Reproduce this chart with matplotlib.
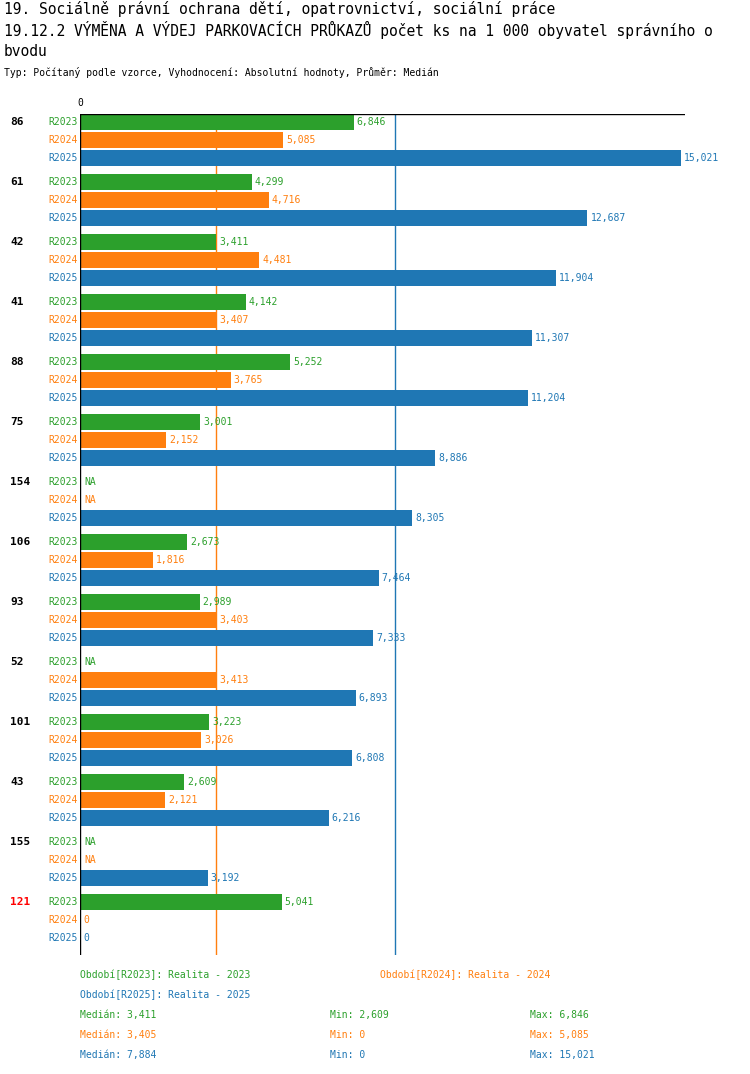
import matplotlib
matplotlib.use('Agg')
import matplotlib.pyplot as plt
import numpy as np

groups = ['86', '61', '42', '41', '88', '75', '154', '106', '93', '52', '101', '43', '155', '121']
series = ['R2023', 'R2024', 'R2025']
r2023 = [6.846, 4.299, 3.411, 4.142, 5.252, 3.001, None, 2.673, 2.989, None, 3.223, 2.609, None, 5.041]
r2024 = [5.085, 4.716, 4.481, 3.407, 3.765, 2.152, None, 1.816, 3.403, 3.413, 3.026, 2.121, None, 0.0]
r2025 = [15.021, 12.687, 11.904, 11.307, 11.204, 8.886, 8.305, 7.464, 7.333, 6.893, 6.808, 6.216, 3.192, 0.0]
medians = [3.411, 3.405, 7.884]
mins = [2.609, 0.0, 0.0]
maxs = [6.846, 5.085, 15.021]
colors = ['#2ca02c', '#ff7f0e', '#1f77b4']

W, H = 750, 1074
fig = plt.figure(figsize=(W / 100, H / 100), dpi=100)
fig.patch.set_facecolor('white')
mono = 'DejaVu Sans Mono'

def fmt(v):
    if v == 0:
        return '0'
    return f'{v:.3f}'.replace('.', ',')

def ftxt(x, y, s, **kw):
    fig.text(x / W, 1 - y / H, s, family=mono, va='center', **kw)

# axes in pixel coords: x 80..685, y 114..955
ax = fig.add_axes([80 / W, 1 - 955 / H, 605 / W, (955 - 114) / H])
ax.set_xlim(0, 605 / 40.0)
ax.set_ylim(955, 114)
ax.axis('off')
ax.plot([0, 605 / 40.0], [114, 114], color='black', lw=1)
ax.plot([0, 0], [114, 955], color='black', lw=1)
ax.axvline(medians[1], color=colors[1], lw=1, zorder=0)
ax.axvline(medians[2], color=colors[2], lw=1, zorder=0)
ax.text(0, 108, '0', family=mono, fontsize=7, ha='center', va='bottom')

data = [r2023, r2024, r2025]
for g, name in enumerate(groups):
    y0 = 122 + 60 * g
    ax.text(-70 / 40.0, y0, name, family=mono, fontsize=8, fontweight='bold',
            ha='left', va='center', color='red' if name == '121' else 'black')
    for k in range(3):
        y = y0 + 18 * k
        v = data[k][g]
        ax.text(-2 / 40.0, y, series[k], family=mono, fontsize=7, ha='right',
                va='center', color=colors[k])
        if v is None:
            ax.text(4 / 40.0, y, 'NA', family=mono, fontsize=7, va='center', color=colors[k])
            continue
        ax.barh(y, v, height=16, color=colors[k])
        ax.text(v + 3 / 40.0, y, fmt(v), family=mono, fontsize=7, va='center', color=colors[k])

ftxt(4, 9, '19. Sociálně právní ochrana dětí, opatrovnictví, sociální práce', fontsize=10.5)
ftxt(4, 30, '19.12.2 VÝMĚNA A VÝDEJ PARKOVACÍCH PRŮKAZŮ počet ks na 1 000 obyvatel správního o', fontsize=10.5)
ftxt(4, 51, 'bvodu', fontsize=10.5)
ftxt(4, 73, 'Typ: Počítaný podle vzorce, Vyhodnocení: Absolutní hodnoty, Průměr: Medián', fontsize=7)

ftxt(80, 975, 'Období[R2023]: Realita - 2023', fontsize=7, color=colors[0])
ftxt(380, 975, 'Období[R2024]: Realita - 2024', fontsize=7, color=colors[1])
ftxt(80, 995, 'Období[R2025]: Realita - 2025', fontsize=7, color=colors[2])
for k in range(3):
    y = 1015 + 20 * k
    ftxt(80, y, 'Medián: ' + fmt(medians[k]), fontsize=7, color=colors[k])
    ftxt(330, y, 'Min: ' + fmt(mins[k]), fontsize=7, color=colors[k])
    ftxt(530, y, 'Max: ' + fmt(maxs[k]), fontsize=7, color=colors[k])

fig.savefig('out.png', dpi=100)
